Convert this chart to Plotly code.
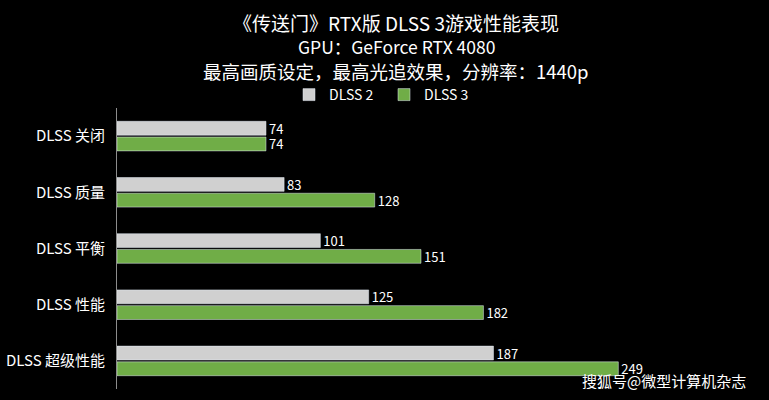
import plotly.graph_objects as go

categories = ["DLSS 关闭", "DLSS 质量", "DLSS 平衡", "DLSS 性能", "DLSS 超级性能"]
dlss2 = [74, 83, 101, 125, 187]
dlss3 = [74, 128, 151, 182, 249]
series_names = ["DLSS 2", "DLSS 3"]
title_lines = ["《传送门》RTX版 DLSS 3游戏性能表现", "GPU：GeForce RTX 4080", "最高画质设定，最高光追效果，分辨率：1440p"]
watermark = "搜狐号@微型计算机杂志"

FONT = "Noto Sans CJK SC"
W, H = 769, 400
L, R, T, B = 117, 48, 108, 11
PW, PH = W - L - R, H - T - B


def px_x(x):
    return (x - L) / PW


def px_y(y):
    return (H - B - y) / PH


fig = go.Figure()
fig.add_trace(go.Bar(y=categories, x=dlss2, name=series_names[0], orientation="h",
                     marker_color="#d0d0d0", text=dlss2, textposition="outside",
                     constraintext="none",
                     textfont=dict(color="white", size=13, family=FONT), cliponaxis=False))
fig.add_trace(go.Bar(y=categories, x=dlss3, name=series_names[1], orientation="h",
                     marker_color="#70ad47", text=dlss3, textposition="outside",
                     constraintext="none",
                     textfont=dict(color="white", size=13, family=FONT), cliponaxis=False))

annotations = []
for text, yc, size in zip(title_lines, [22, 47, 71], [19, 17.5, 18.5]):
    annotations.append(dict(text=text, x=px_x(396), y=px_y(yc), xref="paper", yref="paper",
                            xanchor="center", yanchor="middle", showarrow=False,
                            font=dict(size=size, color="white", family=FONT)))
annotations.append(dict(text=watermark, x=px_x(748), y=px_y(380), xref="paper", yref="paper",
                        xanchor="right", yanchor="middle", showarrow=False,
                        font=dict(size=15, color="white", family=FONT)))

fig.update_layout(
    width=W, height=H,
    paper_bgcolor="black", plot_bgcolor="black",
    font=dict(family=FONT, color="white", size=13),
    margin=dict(l=L, r=R, t=T, b=B, autoexpand=False),
    barmode="group", bargap=0.44, bargroupgap=0.12,
    legend=dict(orientation="h", x=px_x(384), xanchor="center", y=px_y(95), yanchor="middle",
                font=dict(size=14, color="white", family=FONT),
                itemwidth=30, entrywidth=50, entrywidthmode="pixels",
                bgcolor="rgba(0,0,0,0)"),
    showlegend=True,
    xaxis=dict(range=[0, 300], visible=False, showgrid=False, zeroline=False),
    yaxis=dict(autorange="reversed", showline=True, linecolor="#8c8c8c", linewidth=1,
               showgrid=False, ticks="outside", ticklen=8, tickcolor="black", automargin=False,
               tickfont=dict(size=15, color="white", family=FONT)),
    annotations=annotations,
)

fig.write_html("out.html", config={"displayModeBar": False},
               post_script="document.body.style.margin='0';")
